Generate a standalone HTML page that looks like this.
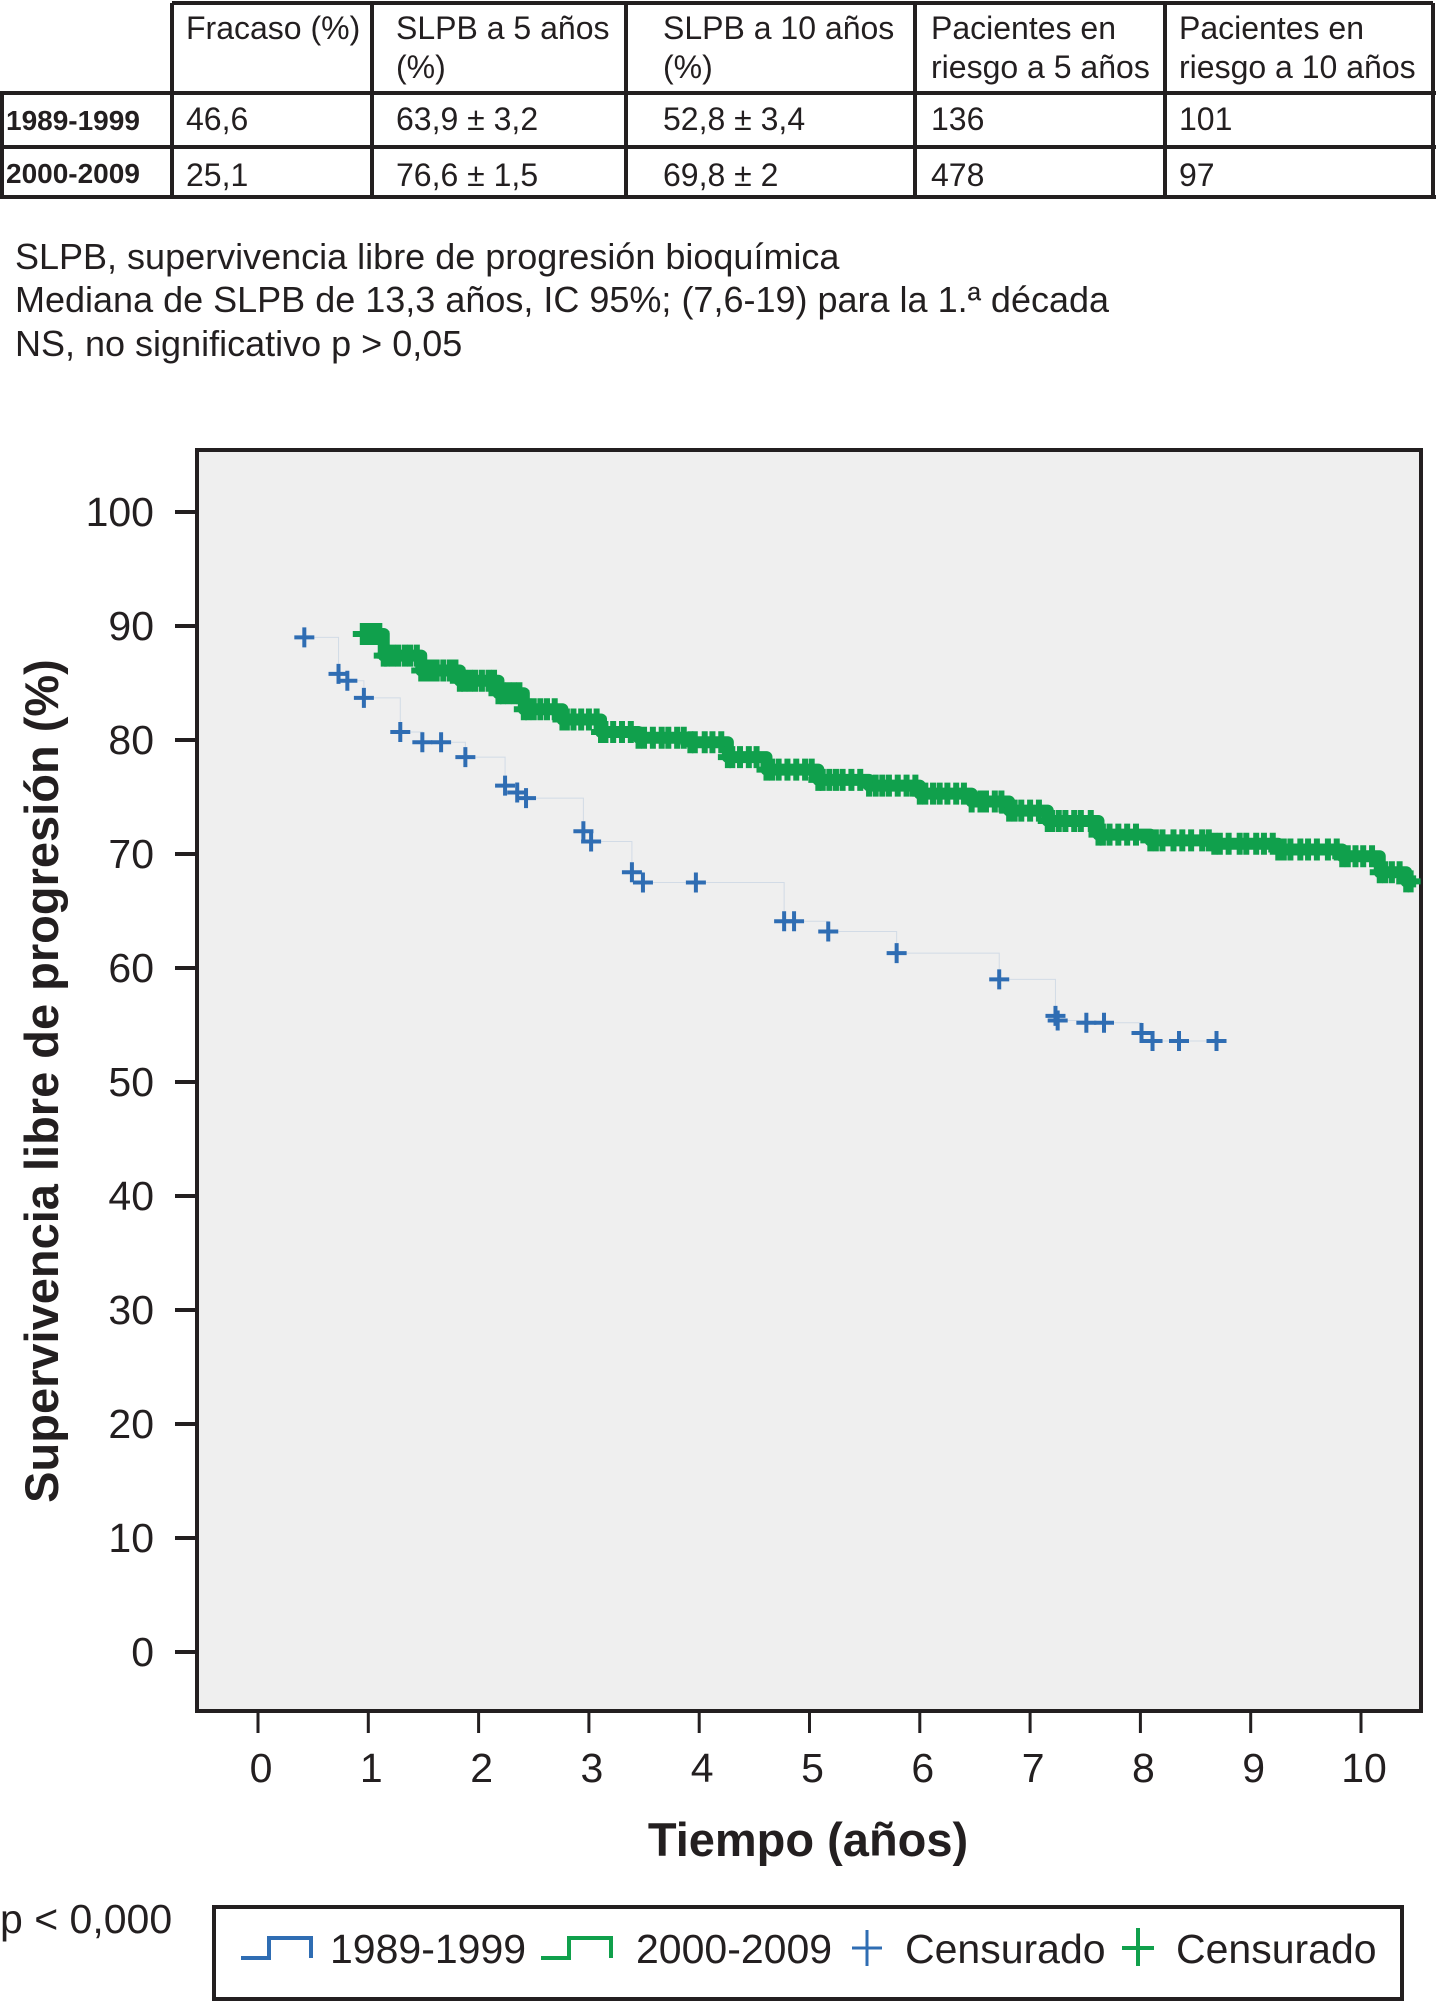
<!DOCTYPE html>
<html><head><meta charset="utf-8"><style>
body{margin:0;background:#fff;width:1436px;height:2003px;overflow:hidden;font-family:"Liberation Sans",sans-serif;color:#231f20}
.t{position:absolute;font-size:32px;line-height:39px}
.b{font-weight:bold;font-size:28px}
.note{position:absolute;left:15px;font-size:36px}
</style></head><body>
<svg width="1436" height="200" style="position:absolute;left:0;top:0">
<g stroke="#231f20" stroke-width="4" fill="none">
<line x1="172" y1="3" x2="1433" y2="3"/>
<line x1="0" y1="93" x2="1436" y2="93"/>
<line x1="0" y1="147" x2="1436" y2="147"/>
<line x1="0" y1="197" x2="1436" y2="197"/>
<line x1="2" y1="93" x2="2" y2="197"/>
<line x1="172" y1="3" x2="172" y2="197"/>
<line x1="372" y1="3" x2="372" y2="197"/>
<line x1="626" y1="3" x2="626" y2="197"/>
<line x1="915" y1="3" x2="915" y2="197"/>
<line x1="1165" y1="3" x2="1165" y2="197"/>
<line x1="1433" y1="3" x2="1433" y2="197"/>
</g></svg>
<div class="t" style="left:186px;top:9px">Fracaso (%)</div>
<div class="t" style="left:396px;top:9px">SLPB a 5 años<br>(%)</div>
<div class="t" style="left:663px;top:9px">SLPB a 10 años<br>(%)</div>
<div class="t" style="left:931px;top:9px">Pacientes en<br>riesgo a 5 años</div>
<div class="t" style="left:1179px;top:9px">Pacientes en<br>riesgo a 10 años</div>
<div class="t b" style="left:6px;top:101px">1989-1999</div>
<div class="t" style="left:186px;top:100px">46,6</div>
<div class="t" style="left:396px;top:100px">63,9 ± 3,2</div>
<div class="t" style="left:663px;top:100px">52,8 ± 3,4</div>
<div class="t" style="left:931px;top:100px">136</div>
<div class="t" style="left:1179px;top:100px">101</div>
<div class="t b" style="left:6px;top:154px">2000-2009</div>
<div class="t" style="left:186px;top:156px">25,1</div>
<div class="t" style="left:396px;top:156px">76,6 ± 1,5</div>
<div class="t" style="left:663px;top:156px">69,8 ± 2</div>
<div class="t" style="left:931px;top:156px">478</div>
<div class="t" style="left:1179px;top:156px">97</div>
<div class="note" style="top:236px">SLPB, supervivencia libre de progresión bioquímica</div>
<div class="note" style="top:279px">Mediana de SLPB de 13,3 años, IC 95%; (7,6-19) para la 1.ª década</div>
<div class="note" style="top:323px">NS, no significativo p &gt; 0,05</div>

<svg id="chart" width="1436" height="2003" style="position:absolute;left:0;top:0"></svg>
<script>
const yTicks=[0,10,20,30,40,50,60,70,80,90,100];
const xTicks=[0,1,2,3,4,5,6,7,8,9,10];
const blueTimes=[0.42,0.73,0.81,0.96,1.29,1.49,1.66,1.88,2.24,2.35,2.43,2.95,3.02,3.39,3.49,3.97,4.77,4.86,5.17,5.79,6.72,7.23,7.25,7.51,7.67,8.01,8.11,8.35,8.69];
const blueVals=[89.0,85.8,85.2,83.7,80.7,79.8,79.8,78.5,76.0,75.4,74.9,72.0,71.1,68.4,67.5,67.5,64.1,64.1,63.2,61.3,59.0,55.8,55.4,55.2,55.2,54.3,53.6,53.6,53.6];
const greenTimes=[0.95,1.14,1.48,1.83,2.18,2.41,2.76,3.11,3.45,3.92,4.26,4.61,5.08,5.54,6.00,6.47,6.81,7.16,7.62,8.09,8.67,9.25,9.83,10.17,10.41];
const greenVals=[89.3,87.4,86.1,85.2,84.1,82.7,81.8,80.7,80.2,79.8,78.5,77.4,76.5,76.0,75.3,74.6,73.8,72.9,71.7,71.2,70.9,70.4,69.8,68.4,67.6];
const greenCensor=[0.97,1.0,1.05,1.1,1.17,1.22,1.27,1.33,1.38,1.44,1.52,1.57,1.62,1.68,1.74,1.79,1.87,1.92,1.97,2.03,2.09,2.14,2.22,2.27,2.32,2.37,2.45,2.5,2.56,2.62,2.69,2.8,2.86,2.93,3.0,3.07,3.15,3.22,3.3,3.38,3.5,3.58,3.66,3.72,3.8,3.86,3.96,4.05,4.12,4.2,4.3,4.37,4.45,4.52,4.66,4.72,4.8,4.88,4.96,5.02,5.12,5.18,5.24,5.3,5.38,5.46,5.6,5.66,5.72,5.8,5.88,5.96,6.05,6.12,6.18,6.25,6.33,6.4,6.55,6.6,6.68,6.74,6.86,6.92,7.0,7.08,7.2,7.26,7.32,7.4,7.46,7.55,7.66,7.72,7.8,7.88,7.96,8.14,8.2,8.3,8.38,8.46,8.56,8.62,8.72,8.8,8.9,8.96,9.05,9.12,9.2,9.3,9.36,9.45,9.52,9.6,9.7,9.78,9.88,9.95,10.02,10.1,10.22,10.28,10.35,10.45];
const NS='http://www.w3.org/2000/svg';
const svg=document.getElementById('chart');
const L=197,T=450,R=1421,B=1711;
function xs(t){return 258+t*110.3;}
function ys(v){return 1652-v*11.4;}
function mk(tag,attrs,parent){const e=document.createElementNS(NS,tag);for(const k in attrs)e.setAttribute(k,attrs[k]);(parent||svg).appendChild(e);return e;}
const bg=mk('rect',{x:L,y:T,width:R-L,height:B-T,fill:'#efefef',stroke:'#231f20','stroke-width':4});


yTicks.forEach(v=>{
 const l=mk('line',{x1:175,x2:L,y1:ys(v),y2:ys(v),stroke:'#231f20','stroke-width':4});
 
 
 const t=mk('text',{x:154,y:ys(v)+14,'text-anchor':'end','font-size':41,fill:'#231f20','font-family':'Liberation Sans'});
 t.textContent=v;
 
 
});
xTicks.forEach(v=>{
 const l=mk('line',{x1:xs(v),x2:xs(v),y1:B,y2:B+22,stroke:'#231f20','stroke-width':3});
 
 
 const t=mk('text',{x:xs(v)+3,y:1782,'text-anchor':'middle','font-size':41,fill:'#231f20','font-family':'Liberation Sans'});
 t.textContent=v;
 
 
});
function stepPath(ts,vs,start){let d='M'+xs(start)+','+ys(vs[0]);for(let i=0;i<ts.length;i++){d+=' H'+xs(ts[i])+' V'+ys(vs[i]);}return d;}
function valAt(ts,vs,t){let v=vs[0];for(let i=0;i<ts.length;i++){if(ts[i]<=t)v=vs[i];}return v;}
const bp=mk('path',{d:stepPath(blueTimes,blueVals,blueTimes[0]),fill:'none',stroke:'#2f6db3','stroke-width':1,opacity:0.15});


const gp=mk('path',{d:stepPath(greenTimes,greenVals,greenTimes[0])+' H'+xs(10.5),fill:'none',stroke:'#10a04c','stroke-width':12,'stroke-linejoin':'round'});


function plus(x,y,col,name,sw,h){const g=mk('path',{d:`M${x-10},${y} h20 M${x},${y-h} v${2*h}`,stroke:col,'stroke-width':sw,fill:'none'});
 
 }
greenCensor.forEach(t=>plus(xs(t),ys(valAt(greenTimes,greenVals,t)),'#10a04c','censor-2000-2009',6,11));
greenTimes.forEach((t,i)=>plus(xs(t),ys(greenVals[i]),'#10a04c','censor-2000-2009',6,11));
blueTimes.forEach((t,i)=>plus(xs(t),ys(blueVals[i]),'#2f6db3','censor-1989-1999',4,10));
const xt=mk('text',{x:808,y:1856,'text-anchor':'middle','font-size':47,'font-weight':'bold',fill:'#231f20','font-family':'Liberation Sans'});
xt.textContent='Tiempo (años)';


const yt=mk('text',{x:0,y:0,'text-anchor':'middle','font-size':47,'font-weight':'bold',fill:'#231f20','font-family':'Liberation Sans',transform:'translate(58,1081) rotate(-90)'});
yt.textContent='Supervivencia libre de progresión (%)';


const pv=mk('text',{x:0,y:1933,'font-size':41,fill:'#231f20','font-family':'Liberation Sans'});
pv.textContent='p < 0,000';


const lg=mk('g',{});


mk('rect',{x:214,y:1907,width:1188,height:92,fill:'#fff',stroke:'#231f20','stroke-width':4},lg);
mk('path',{d:'M241,1958 h28 v-20 h42 v20',fill:'none',stroke:'#2f6db3','stroke-width':4},lg);
mk('path',{d:'M541,1958 h28 v-20 h42 v20',fill:'none',stroke:'#10a04c','stroke-width':4},lg);
mk('path',{d:'M852,1948 h30 M867,1930 v36',fill:'none',stroke:'#2f6db3','stroke-width':3},lg);
mk('path',{d:'M1122,1948 h32 M1138,1928 v38',fill:'none',stroke:'#10a04c','stroke-width':4},lg);
[['1989-1999',330],['2000-2009',636],['Censurado',905],['Censurado',1176]].forEach(([s,x])=>{
 const t=mk('text',{x:x,y:1963,'font-size':41,fill:'#231f20','font-family':'Liberation Sans'},lg);
 t.textContent=s;
 
 
});
</script>
</body></html>
